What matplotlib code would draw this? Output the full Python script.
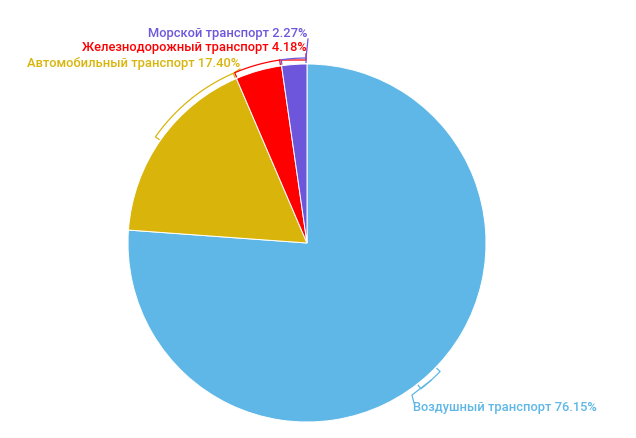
import numpy as np
import matplotlib.pyplot as plt

# transport share data
labels = ["Воздушный транспорт", "Автомобильный транспорт",
          "Железнодорожный транспорт", "Морской транспорт"]
shares = [76.15, 17.40, 4.18, 2.27]
colors = ["#5eb7e6", "#d9b50c", "#ff0000", "#6e56dc"]

W, H = 636, 438
cx, cy, R = 307, H - 243, 179

fig = plt.figure(figsize=(W / 100, H / 100), dpi=100)
ax = fig.add_axes([0, 0, 1, 1])

wedges, _ = ax.pie(shares, colors=colors, startangle=90, counterclock=False,
                   center=(cx, cy), radius=R,
                   wedgeprops=dict(edgecolor="white", linewidth=0.7))
ax.set_xlim(0, W)
ax.set_ylim(0, H)
ax.set_aspect("equal")
ax.axis("off")

# label layout: (x, y from top, alignment, bracket span in degrees, leader end)
layout = [
    (413, 408, "left", (-44, -52), [(412, 395), (414, 403)]),
    (240, 63, "right", (145, 113.5), [(240, 69)]),
    (307, 48, "right", (113, 98.5), [(306, 60), (306, 54)]),
    (307, 33, "right", (98, 90.3), [(308, 39)]),
]


def pt(ang, r):
    a = np.radians(ang)
    return cx + r * np.cos(a), cy + r * np.sin(a)


for w, lab, val, col, (tx, ty, ha, span, leader) in zip(
        wedges, labels, shares, colors, layout):
    a1, a2 = span
    angs = np.linspace(a1, a2, 40)
    rb = R + 6
    xs = [pt(a1, R + 1)[0]] + [pt(a, rb)[0] for a in angs] + [pt(a2, R + 1)[0]]
    ys = [pt(a1, R + 1)[1]] + [pt(a, rb)[1] for a in angs] + [pt(a2, R + 1)[1]]
    ax.plot(xs, ys, color=col, lw=0.9, solid_capstyle="butt")
    # leader from bracket end / middle to label
    if ha == "left":
        start = pt((a1 + a2) / 2, rb)
    else:
        start = pt(a2, rb)
    lx = [start[0]] + [p[0] for p in leader]
    ly = [start[1]] + [H - p[1] for p in leader]
    ax.plot(lx, ly, color=col, lw=0.9)
    ax.text(tx, H - ty, f"{lab} {val:.2f}%", color=col, ha=ha, va="center",
            fontsize=9.3, fontfamily="Roboto", fontweight=500)

fig.savefig("out.png", dpi=100)
